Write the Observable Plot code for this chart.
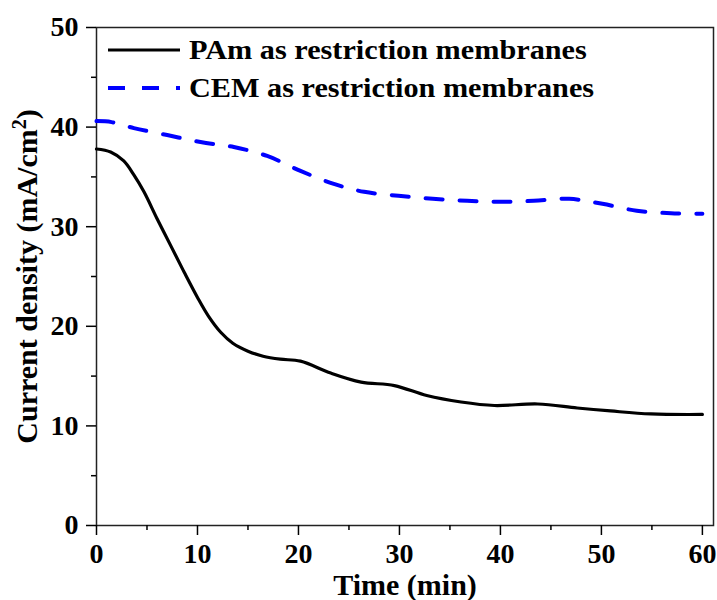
<!DOCTYPE html>
<html>
<head>
<meta charset="utf-8">
<script src="https://cdn.jsdelivr.net/npm/d3@7"></script>
<script src="https://cdn.jsdelivr.net/npm/@observablehq/plot@0.6"></script>
<style>
  html, body { margin: 0; padding: 0; background: #fff; }
  #wrap { position: relative; width: 717px; height: 600px; font-family: "Liberation Serif", "Times New Roman", serif; font-weight: bold; }
  #legend { position: absolute; left: 108px; top: 31px; font-size: 28px; line-height: 38px; color: #000; }
  #legend .row { display: flex; align-items: center; white-space: nowrap; }
  #legend svg { margin-right: 7px; }
  #legend span { display: inline-block; transform: scaleX(1.08); transform-origin: left center; }
</style>
</head>
<body>
<div id="wrap"></div>
<script>
// Time (min) and current density (mA/cm²)
const timePAm = [0, 1.4, 2.7, 3.7, 4.7, 6.0, 7.4, 8.7, 10.0, 11.1, 12.3, 13.5, 15, 16.5, 18.2, 20.2, 23.2, 26.2, 29.5, 32.7, 36.1, 39.4, 43.7, 47.6, 50.9, 54.9, 60];
const densityPAm = [37.8, 37.5, 36.6, 35.2, 33.5, 30.8, 28.0, 25.4, 22.9, 21.0, 19.4, 18.3, 17.5, 17.0, 16.7, 16.5, 15.3, 14.4, 14.05, 13.05, 12.4, 12.05, 12.2, 11.8, 11.5, 11.2, 11.15];
const timeCEM = [0, 1.5, 3.7, 7.0, 10.3, 13.6, 16.9, 20.2, 23.5, 26.5, 29.9, 33.3, 36.7, 40, 43.3, 46.8, 50.1, 53.5, 56.9, 60];
const densityCEM = [40.6, 40.5, 39.9, 39.2, 38.5, 38.0, 37.1, 35.6, 34.3, 33.5, 33.1, 32.8, 32.6, 32.5, 32.6, 32.8, 32.3, 31.6, 31.35, 31.3];
const seriesNames = ["PAm as restriction membranes", "CEM as restriction membranes"];
const xMajor = [0, 10, 20, 30, 40, 50, 60];
const xMinor = [5, 15, 25, 35, 45, 55];
const yMajor = [0, 10, 20, 30, 40, 50];
const yMinor = [5, 15, 25, 35, 45];
const yTitle = "Current density (mA/cm²)";

const pam = timePAm.map((t, i) => ({t, v: densityPAm[i]}));
const cem = timeCEM.map((t, i) => ({t, v: densityCEM[i]}));

const chart = Plot.plot({
  width: 717,
  height: 600,
  marginLeft: 96,
  marginRight: 4,
  marginTop: 27,
  marginBottom: 75,
  style: { fontFamily: "'Liberation Serif', 'Times New Roman', serif", fontWeight: "bold", fontSize: "28px", color: "#000", background: "#fff" },
  x: { domain: [0, 61.1] },
  y: { domain: [0, 50] },
  marks: [
    Plot.frame({ stroke: "#222", strokeWidth: 1.5 }),
    Plot.axisX({ ticks: xMajor, tickSize: 10, tickPadding: 8, strokeWidth: 1.5, tickFormat: d => d, fontSize: 28, label: null }),
    Plot.axisX({ ticks: [], label: "Time (min)", labelAnchor: "center", labelArrow: "none", labelOffset: 69, fontSize: 30, dx: -7 }),
    Plot.axisX({ ticks: xMinor, tickSize: 5, strokeWidth: 1.5, text: null, label: null }),
    Plot.axisY({ ticks: yMajor, tickSize: 10, tickPadding: 8, strokeWidth: 1.5, tickFormat: d => d, fontSize: 28, label: null }),
    Plot.axisY({ ticks: [], label: yTitle, labelAnchor: "center", labelArrow: "none", labelOffset: 81, fontSize: 30, dy: 4 }),
    Plot.axisY({ ticks: yMinor, tickSize: 5, strokeWidth: 1.5, text: null, label: null }),
    Plot.line(pam, { x: "t", y: "v", stroke: "#000", strokeWidth: 3.2, curve: "catmull-rom" }),
    Plot.line(cem, { x: "t", y: "v", stroke: "#0000ff", strokeWidth: 4, strokeDasharray: "17 17", curve: "catmull-rom" })
  ]
});

// render the "²" of the y title as a full-size superscript
chart.querySelectorAll("text").forEach(t => {
  if (t.textContent === yTitle) {
    const ns = "http://www.w3.org/2000/svg";
    t.textContent = "";
    const a = document.createElementNS(ns, "tspan"); a.textContent = "Current density (mA/cm";
    const s = document.createElementNS(ns, "tspan"); s.textContent = "2"; s.setAttribute("font-size", "20"); s.setAttribute("dy", "-11");
    const b = document.createElementNS(ns, "tspan"); b.textContent = ")"; b.setAttribute("dy", "11");
    t.append(a, s, b);
  }
});

const wrap = document.getElementById("wrap");
wrap.appendChild(chart);

const legend = document.createElement("div");
legend.id = "legend";
legend.innerHTML = `
  <div class="row"><svg width="74" height="12"><line x1="0" y1="6" x2="72" y2="6" stroke="#000" stroke-width="3.2"/></svg><span>${seriesNames[0]}</span></div>
  <div class="row"><svg width="74" height="12"><line x1="0" y1="6" x2="72" y2="6" stroke="#0000ff" stroke-width="4" stroke-dasharray="17 17"/></svg><span>${seriesNames[1]}</span></div>`;
wrap.appendChild(legend);
</script>
</body>
</html>
